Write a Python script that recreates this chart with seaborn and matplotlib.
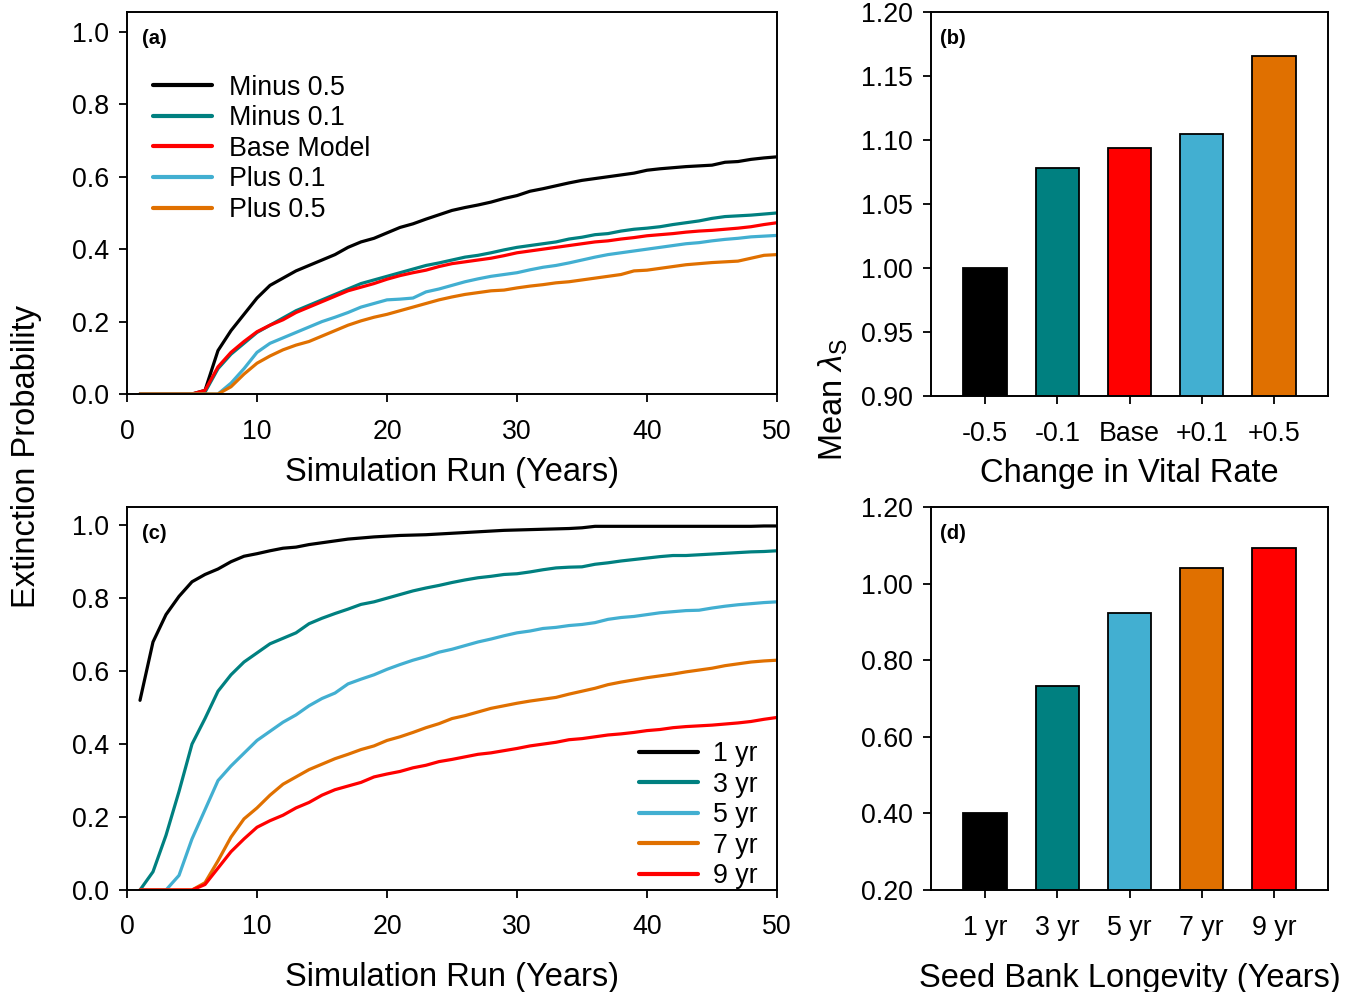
import numpy as np
import pandas as pd
import matplotlib
matplotlib.use("Agg")
import matplotlib.pyplot as plt
import seaborn as sns

sns.set_theme(style="ticks")
plt.rcParams['font.family'] = ['Liberation Sans', 'DejaVu Sans']
plt.rcParams['mathtext.fontset'] = 'custom'
plt.rcParams['mathtext.rm'] = 'Liberation Sans'
plt.rcParams['mathtext.it'] = 'Liberation Sans:italic'
plt.rcParams['text.color'] = 'black'
plt.rcParams['axes.labelcolor'] = 'black'
plt.rcParams['xtick.color'] = 'black'
plt.rcParams['ytick.color'] = 'black'

years = list(range(1, 51))

# Panel (a): vital-rate perturbations
minus_05 = [0, 0, 0, 0, 0, 0.01, 0.12, 0.175, 0.22, 0.265, 0.30, 0.32, 0.34, 0.355, 0.37, 0.385, 0.405, 0.42, 0.43, 0.445,
            0.46, 0.47, 0.483, 0.495, 0.507, 0.515, 0.522, 0.53, 0.54, 0.548, 0.56, 0.567, 0.575, 0.583, 0.59, 0.595, 0.60, 0.605, 0.61, 0.618,
            0.622, 0.625, 0.628, 0.63, 0.632, 0.64, 0.642, 0.648, 0.652, 0.655]
minus_01 = [0, 0, 0, 0, 0, 0.005, 0.07, 0.11, 0.14, 0.17, 0.19, 0.21, 0.23, 0.245, 0.26, 0.275, 0.29, 0.305, 0.315, 0.325,
            0.335, 0.345, 0.355, 0.362, 0.37, 0.378, 0.383, 0.39, 0.398, 0.405, 0.41, 0.415, 0.42, 0.428, 0.433, 0.44, 0.443, 0.45, 0.455, 0.458,
            0.462, 0.468, 0.473, 0.478, 0.485, 0.49, 0.492, 0.494, 0.497, 0.50]
base_model = [0, 0, 0, 0, 0, 0.01, 0.075, 0.115, 0.145, 0.172, 0.19, 0.205, 0.225, 0.24, 0.255, 0.27, 0.285, 0.295, 0.305, 0.317,
              0.327, 0.335, 0.342, 0.352, 0.36, 0.365, 0.37, 0.375, 0.382, 0.39, 0.395, 0.40, 0.405, 0.41, 0.415, 0.42, 0.423, 0.428, 0.432, 0.437,
              0.44, 0.443, 0.447, 0.45, 0.452, 0.455, 0.458, 0.462, 0.468, 0.473]
plus_01 = [0, 0, 0, 0, 0, 0, 0, 0.03, 0.07, 0.115, 0.14, 0.155, 0.17, 0.185, 0.20, 0.212, 0.225, 0.24, 0.25, 0.26,
           0.262, 0.265, 0.282, 0.29, 0.30, 0.31, 0.318, 0.325, 0.33, 0.335, 0.343, 0.35, 0.355, 0.362, 0.37, 0.378, 0.385, 0.39, 0.395, 0.40,
           0.405, 0.41, 0.415, 0.418, 0.423, 0.427, 0.43, 0.434, 0.436, 0.438]
plus_05 = [0, 0, 0, 0, 0, 0, 0, 0.02, 0.055, 0.085, 0.105, 0.122, 0.135, 0.145, 0.16, 0.175, 0.19, 0.202, 0.212, 0.22,
           0.23, 0.24, 0.25, 0.26, 0.268, 0.275, 0.28, 0.285, 0.287, 0.293, 0.298, 0.302, 0.307, 0.31, 0.315, 0.32, 0.325, 0.33, 0.34, 0.342,
           0.347, 0.352, 0.357, 0.36, 0.363, 0.365, 0.367, 0.375, 0.383, 0.385]
a_labels = ["Minus 0.5", "Minus 0.1", "Base Model", "Plus 0.1", "Plus 0.5"]

# Panel (c): seed bank longevity
yr1 = [0.52, 0.68, 0.755, 0.805, 0.845, 0.865, 0.88, 0.90, 0.915, 0.922, 0.93, 0.937, 0.94, 0.947, 0.952, 0.957, 0.962, 0.965, 0.968, 0.97,
       0.972, 0.973, 0.974, 0.976, 0.978, 0.98, 0.982, 0.984, 0.986, 0.987, 0.988, 0.989, 0.99, 0.991, 0.993, 0.997, 0.997, 0.997, 0.997, 0.997,
       0.997, 0.997, 0.997, 0.997, 0.997, 0.997, 0.997, 0.997, 0.998, 0.998]
yr3 = [0, 0.05, 0.15, 0.27, 0.40, 0.47, 0.545, 0.59, 0.625, 0.65, 0.675, 0.69, 0.705, 0.73, 0.745, 0.758, 0.77, 0.783, 0.79, 0.80,
       0.81, 0.82, 0.828, 0.835, 0.843, 0.85, 0.856, 0.86, 0.865, 0.867, 0.872, 0.878, 0.883, 0.885, 0.886, 0.893, 0.897, 0.902, 0.906, 0.91,
       0.914, 0.917, 0.917, 0.919, 0.921, 0.923, 0.925, 0.927, 0.928, 0.93]
yr5 = [0, 0, 0, 0.04, 0.14, 0.22, 0.30, 0.34, 0.375, 0.41, 0.435, 0.46, 0.48, 0.505, 0.525, 0.54, 0.565, 0.578, 0.59, 0.605,
       0.618, 0.63, 0.64, 0.652, 0.66, 0.67, 0.68, 0.688, 0.697, 0.705, 0.71, 0.717, 0.72, 0.725, 0.728, 0.733, 0.742, 0.747, 0.75, 0.755,
       0.76, 0.763, 0.766, 0.767, 0.773, 0.778, 0.782, 0.785, 0.788, 0.79]
yr7 = [0, 0, 0, 0, 0, 0.02, 0.08, 0.145, 0.195, 0.225, 0.26, 0.29, 0.31, 0.33, 0.345, 0.36, 0.372, 0.385, 0.395, 0.41,
       0.42, 0.432, 0.445, 0.456, 0.47, 0.478, 0.488, 0.498, 0.505, 0.512, 0.518, 0.523, 0.528, 0.537, 0.545, 0.553, 0.563, 0.57, 0.576, 0.582,
       0.587, 0.592, 0.598, 0.603, 0.608, 0.615, 0.62, 0.625, 0.628, 0.63]
yr9 = [0, 0, 0, 0, 0, 0.015, 0.06, 0.105, 0.14, 0.172, 0.19, 0.205, 0.225, 0.24, 0.26, 0.275, 0.285, 0.295, 0.31, 0.318,
       0.325, 0.335, 0.342, 0.352, 0.358, 0.365, 0.372, 0.376, 0.382, 0.388, 0.395, 0.40, 0.405, 0.412, 0.415, 0.42, 0.425, 0.428, 0.432, 0.437,
       0.44, 0.445, 0.448, 0.45, 0.452, 0.455, 0.458, 0.462, 0.468, 0.473]
c_labels = ["1 yr", "3 yr", "5 yr", "7 yr", "9 yr"]

# Panel (b)
b_categories = ["-0.5", "-0.1", "Base", "+0.1", "+0.5"]
b_values = [1.000, 1.078, 1.094, 1.105, 1.166]

# Panel (d)
d_categories = ["1 yr", "3 yr", "5 yr", "7 yr", "9 yr"]
d_values = [0.400, 0.733, 0.924, 1.041, 1.094]

BLACK = "#000000"
TEAL = "#008080"
RED = "#FF0000"
LBLUE = "#42AFD1"
ORANGE = "#E07000"

pal_a = [BLACK, TEAL, RED, LBLUE, ORANGE]
pal_c = [BLACK, TEAL, LBLUE, ORANGE, RED]

W, H = 1357, 992
fig = plt.figure(figsize=(W / 100, H / 100), dpi=100)

def ax_rect(l, t, r, b):
    return [l / W, 1 - b / H, (r - l) / W, (b - t) / H]

ax_a = fig.add_axes(ax_rect(127, 12, 777, 394))
ax_b = fig.add_axes(ax_rect(931, 12, 1328, 396))
ax_c = fig.add_axes(ax_rect(127, 507, 777, 890))
ax_d = fig.add_axes(ax_rect(931, 507, 1328, 890))

TICK_FS = 19.3
LABEL_FS = 23.5

def long_df(series, labels):
    frames = []
    for s, lab in zip(series, labels):
        frames.append(pd.DataFrame({"year": years, "p": s, "group": lab}))
    return pd.concat(frames, ignore_index=True)

df_a = long_df([minus_05, minus_01, base_model, plus_01, plus_05], a_labels)
df_c = long_df([yr1, yr3, yr5, yr7, yr9], c_labels)

sns.lineplot(data=df_a, x="year", y="p", hue="group", hue_order=a_labels,
             palette=pal_a, linewidth=2.3, ax=ax_a)
sns.lineplot(data=df_c, x="year", y="p", hue="group", hue_order=c_labels,
             palette=pal_c, linewidth=2.3, ax=ax_c)

for ax in (ax_a, ax_c):
    ax.set_xlim(0, 50)
    ax.set_xticks([0, 10, 20, 30, 40, 50])
    ax.set_yticks([0.0, 0.2, 0.4, 0.6, 0.8, 1.0])
    ax.set_yticklabels(["0.0", "0.2", "0.4", "0.6", "0.8", "1.0"])
    ax.set_xlabel("Simulation Run (Years)", fontsize=LABEL_FS)
    ax.set_ylabel("")

ax_a.set_ylim(0, 1.055)
ax_c.set_ylim(0, 1.05)

leg = ax_a.legend(loc="upper left", bbox_to_anchor=(0.016, 0.878), frameon=False,
                  fontsize=TICK_FS, handlelength=2.2, handletextpad=0.6,
                  labelspacing=0.17, borderaxespad=0.2)
for h in leg.get_lines():
    h.set_linewidth(3)
leg = ax_c.legend(loc="lower right", bbox_to_anchor=(0.995, -0.04), frameon=False,
                  fontsize=TICK_FS, handlelength=2.2, handletextpad=0.55,
                  labelspacing=0.17, borderaxespad=0.2)
for h in leg.get_lines():
    h.set_linewidth(3)

# Bars
df_b = pd.DataFrame({"cat": b_categories, "val": b_values})
df_d = pd.DataFrame({"cat": d_categories, "val": d_values})

sns.barplot(data=df_b, x="cat", y="val", hue="cat", order=b_categories, hue_order=b_categories,
            palette=pal_a, saturation=1, width=0.6, edgecolor="black", linewidth=1.3,
            legend=False, ax=ax_b)
sns.barplot(data=df_d, x="cat", y="val", hue="cat", order=d_categories, hue_order=d_categories,
            palette=pal_c, saturation=1, width=0.6, edgecolor="black", linewidth=1.3,
            legend=False, ax=ax_d)

ax_b.set_ylim(0.90, 1.20)
ax_b.set_yticks([0.90, 0.95, 1.00, 1.05, 1.10, 1.15, 1.20])
ax_b.set_yticklabels(["0.90", "0.95", "1.00", "1.05", "1.10", "1.15", "1.20"])
ax_b.set_xlabel("Change in Vital Rate", fontsize=LABEL_FS)

ax_d.set_ylim(0.20, 1.20)
ax_d.set_yticks([0.2, 0.4, 0.6, 0.8, 1.0, 1.2])
ax_d.set_yticklabels(["0.20", "0.40", "0.60", "0.80", "1.00", "1.20"])
ax_d.set_xlabel("Seed Bank Longevity (Years)", fontsize=LABEL_FS)

for ax in (ax_b, ax_d):
    ax.set_xlim(-0.75, 4.75)
    ax.set_ylabel("")

for ax in (ax_a, ax_b, ax_c, ax_d):
    for sp in ax.spines.values():
        sp.set_visible(True)
        sp.set_linewidth(1.4)
        sp.set_color("black")
    ax.tick_params(axis="both", direction="out", length=6, width=1.3,
                   labelsize=TICK_FS, pad=7, colors="black")
    ax.set_facecolor("white")

ax_a.tick_params(axis="x", pad=12)
ax_c.tick_params(axis="x", pad=11)
ax_b.tick_params(axis="x", pad=12)
ax_d.tick_params(axis="x", pad=12)
ax_a.xaxis.labelpad = 9
ax_b.xaxis.labelpad = 8
ax_c.xaxis.labelpad = 16
ax_d.xaxis.labelpad = 16

# Panel letters
for ax, lab in ((ax_a, "(a)"), (ax_b, "(b)"), (ax_c, "(c)"), (ax_d, "(d)")):
    ax.text(0.023, 0.955, lab, transform=ax.transAxes, fontsize=14.5,
            fontweight="bold", ha="left", va="top", color="black")

# Shared y labels
fig.text(27 / W, 1 - 457 / H, "Extinction Probability", rotation=90,
         fontsize=LABEL_FS, ha="center", va="center", color="black")
fig.text(833 / W, 1 - 400 / H, r"Mean $\lambda_{\mathrm{S}}$", rotation=90,
         fontsize=LABEL_FS, ha="center", va="center", color="black")

fig.savefig("out.png", dpi=100, facecolor="white")
